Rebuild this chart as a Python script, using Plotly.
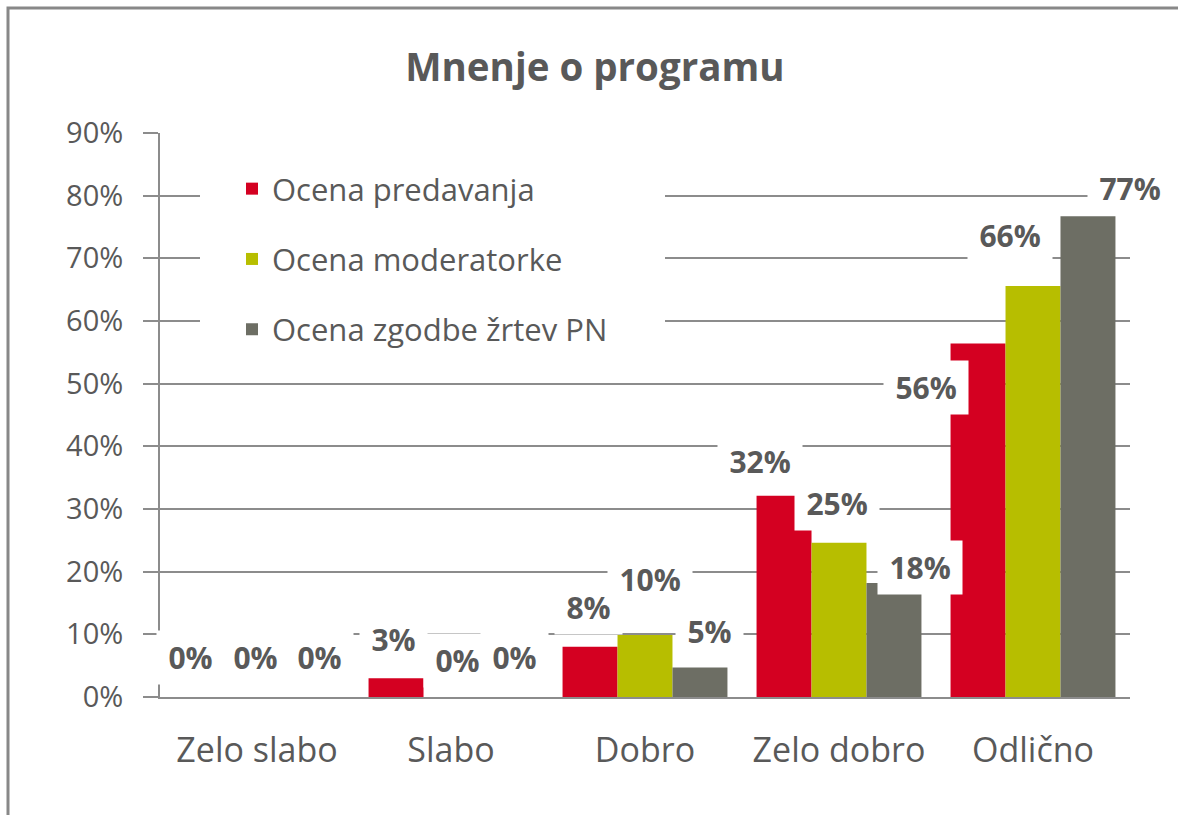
import plotly.graph_objects as go

categories = ["Zelo slabo", "Slabo", "Dobro", "Zelo dobro", "Odlično"]
series_names = ["Ocena predavanja", "Ocena moderatorke", "Ocena zgodbe žrtev PN"]
predavanja = [0, 3, 8, 32.1, 56.4]
moderatorke = [0, 0, 9.9, 24.6, 65.6]
zgodbe = [0, 0, 4.7, 18.2, 76.7]
y_ticks = [0, 10, 20, 30, 40, 50, 60, 70, 80, 90]

# styling (kept separate from the data)
colors = ["#D40021", "#B7BE00", "#6D6E64"]
text_color = "#595959"
grid_color = "#8C8C8C"
FONT = "Open Sans"
bargap = 0.15
LABEL_SIZE = 30
# label offsets in pixels (dx, dy) relative to the bar top centre, per series/category
label_offsets = [
    [(-12, 40), (-3, 39), (-2, 39), (-24, 34), (-52, -44)],
    [(-2, 40), (6, 37), (5, 55), (-2, 39), (-23, 50)],
    [(8, 40), (9, 40), (10, 36), (26, 15), (42, 28)],
]

series = [predavanja, moderatorke, zgodbe]
x_pos = list(range(len(categories)))
bar_w = (1 - bargap) / len(series)

fig = go.Figure()
for j, (name, vals) in enumerate(zip(series_names, series)):
    fig.add_trace(go.Bar(
        x=x_pos, y=vals, name=name, marker=dict(color=colors[j], line=dict(width=0)),
        legendgroup=f"g{j}",
    ))

annotations = []
for j, vals in enumerate(series):
    for i, v in enumerate(vals):
        dx, dy = label_offsets[j][i]
        txt = f"{round(v):.0f}%"
        n_digits = len(txt) - 1
        box_w = 0.573 * LABEL_SIZE * n_digits + 0.86 * LABEL_SIZE + 24
        annotations.append(dict(
            x=i + (j - 1) * bar_w, y=v, xref="x", yref="y",
            text=txt, showarrow=False,
            xshift=dx, yshift=dy, xanchor="center", yanchor="middle",
            font=dict(family=FONT, size=LABEL_SIZE, color=text_color, weight="bold"),
            bgcolor="white", borderpad=0, width=box_w, height=53,
        ))

W, H = 1178, 815
L, R, T, B = 160, 48, 133, 118
pw, ph = W - L - R, H - T - B

def px_x(p):
    return (p - L) / pw

def px_y(p):
    return (H - B - p) / ph

fig.update_layout(
    width=W, height=H,
    margin=dict(l=L, r=R, t=T, b=B, autoexpand=False),
    paper_bgcolor="white", plot_bgcolor="white",
    barmode="group", bargap=bargap, bargroupgap=0,
    title=dict(text="<b>Mnenje o programu</b>", x=0.505, xanchor="center",
               y=1 - 68 / H, yanchor="middle", yref="container",
               font=dict(family=FONT, size=38.5, color=text_color)),
    font=dict(family=FONT, color=text_color),
    legend=dict(x=px_x(232), y=px_y(162), xanchor="left", yanchor="top",
                bgcolor="white", font=dict(family=FONT, size=31, color=text_color),
                tracegroupgap=27, traceorder="grouped", itemwidth=30),
    showlegend=True,
    annotations=annotations,
    xaxis=dict(range=[-0.5, 4.5], tickmode="array", tickvals=x_pos, ticktext=categories,
               showgrid=False, showline=True, linecolor=grid_color, linewidth=2,
               ticks="", ticklabelstandoff=22, zeroline=False,
               tickfont=dict(family=FONT, size=34, color=text_color)),
    yaxis=dict(range=[0, 90], tickmode="array", tickvals=y_ticks,
               ticktext=[f"{v}%" for v in y_ticks],
               showgrid=True, gridcolor=grid_color, gridwidth=2,
               showline=True, linecolor=grid_color, linewidth=2,
               ticks="outside", ticklen=15, tickwidth=2, tickcolor=grid_color,
               ticklabelstandoff=14, zeroline=False,
               tickfont=dict(family=FONT, size=29, color=text_color)),
    shapes=[
        # outer chart border
        dict(type="rect", xref="paper", yref="paper",
             x0=px_x(8), x1=px_x(1200), y0=px_y(840), y1=px_y(8),
             line=dict(color="#888888", width=3), fillcolor="rgba(0,0,0,0)", layer="below"),
        # white legend panel hiding the gridlines behind the legend
        dict(type="rect", xref="paper", yref="paper",
             x0=px_x(200), x1=px_x(665), y0=px_y(368), y1=px_y(148),
             line=dict(width=0), fillcolor="white", layer="above"),
    ],
)

fig.write_html("out.html", config={"displayModeBar": False},
               post_script="document.body.style.margin='0';document.body.style.overflow='hidden';")
